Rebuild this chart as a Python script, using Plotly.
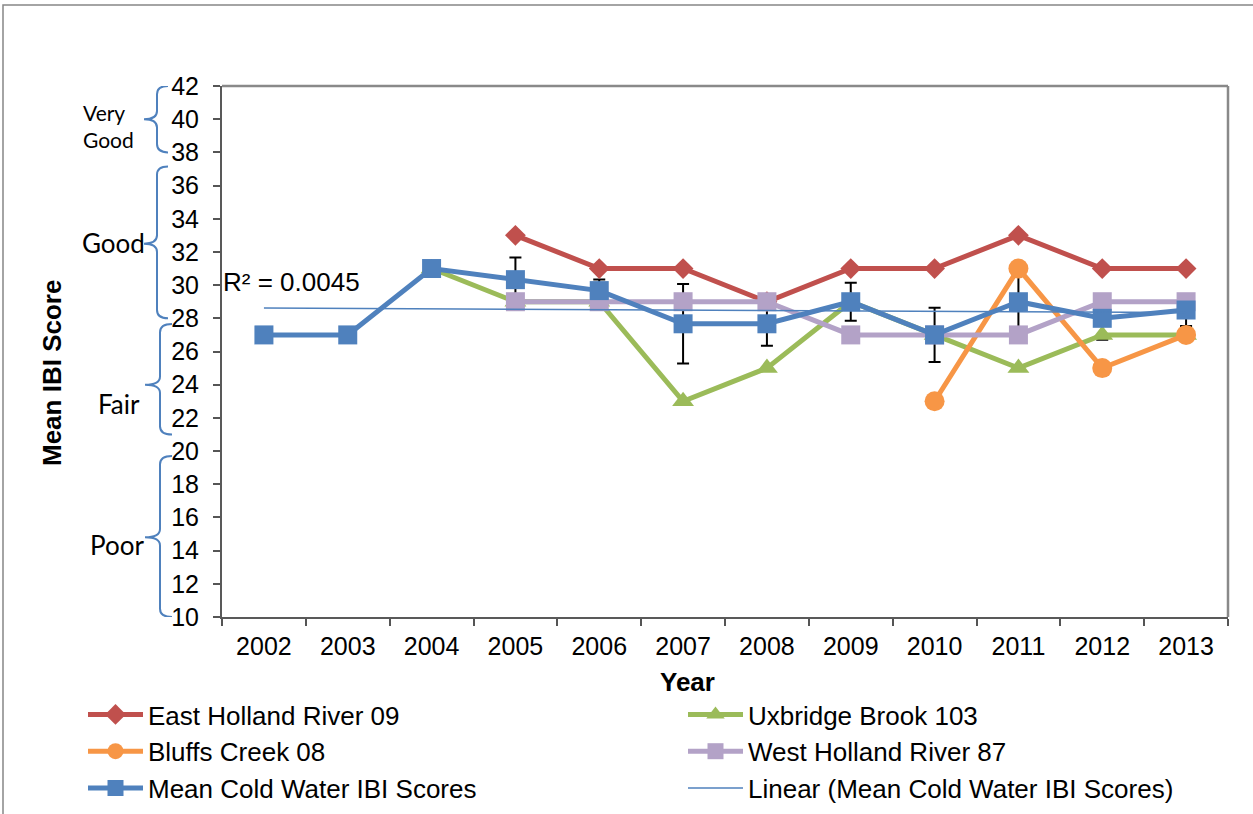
import numpy as np
import plotly.graph_objects as go

# ---- data -------------------------------------------------------------
years = ["2002", "2003", "2004", "2005", "2006", "2007",
         "2008", "2009", "2010", "2011", "2012", "2013"]

east_holland = [None, None, None, 33, 31, 31, 29, 31, 31, 33, 31, 31]
uxbridge = [None, None, 31, 29, 29, 23, 25, 29, 27, 25, 27, 27]
bluffs = [None, None, None, None, None, None, None, None, 23, 31, 25, 27]
west_holland = [None, None, None, 29, 29, 29, 29, 27, 27, 27, 29, 29]
mean_scores = [27, 27, 31, 30.33, 29.67, 27.67, 27.67, 29, 27, 29, 28, 28.5]
mean_se = [None, None, None, 1.33, 0.67, 2.40, 1.33, 1.15, 1.63, 1.83, 1.29, 0.96]

y_ticks = list(range(10, 43, 2))

# IBI rating bands (label, top, bottom, bracket tip)
band_labels = ["Very<br>Good", "Good", "Fair", "Poor"]
band_tops = [42, 37.15, 27.65, 19.7]
band_bottoms = [38, 28, 21.0, 10]
band_mids = [40, 32.5, 24.0, 14.8]

# ---- page geometry ------------------------------------------------------
W, H = 1253, 814
ML, MR, MT, MB = 222, 25, 86, 197
PW, PH = W - ML - MR, H - MT - MB


def px(x):
    """pixel column -> paper x"""
    return (x - ML) / PW


def py(y):
    """pixel row -> paper y"""
    return (H - MB - y) / PH


# ---- linear trend on the mean series -----------------------------------
xi = np.arange(1, len(years) + 1)
coef = np.polyfit(xi, mean_scores, 1)
trend = np.polyval(coef, xi)
resid = np.array(mean_scores) - trend
r2 = 1 - np.sum(resid ** 2) / np.sum((np.array(mean_scores) - np.mean(mean_scores)) ** 2)

FONT = "Liberation Sans, Arial, sans-serif"
BAND_FONT = "Lato, Carlito, Calibri, sans-serif"
BLUE = "#4F81BD"

fig = go.Figure()

# standard-error bars sit underneath every series
fig.add_trace(go.Scatter(
    x=years, y=mean_scores, mode="markers",
    marker=dict(size=2, opacity=0),
    error_y=dict(type="data", array=mean_se, visible=True,
                 color="black", thickness=2, width=6),
    showlegend=False, hoverinfo="skip"))

series = [
    ("East Holland River 09", east_holland, "#C0504D", "diamond", 16, "legend"),
    ("Uxbridge Brook 103", uxbridge, "#9BBB59", "triangle-up", 19, "legend2"),
    ("Bluffs Creek 08", bluffs, "#F79646", "circle", 20, "legend"),
    ("West Holland River 87", west_holland, "#B3A2C7", "square", 19, "legend2"),
    ("Mean Cold Water IBI Scores", mean_scores, BLUE, "square", 19, "legend"),
]
for name, vals, color, sym, size, lg in series:
    fig.add_trace(go.Scatter(
        x=years, y=vals, name=name, mode="lines+markers",
        line=dict(color=color, width=5),
        marker=dict(symbol=sym, size=size, color=color),
        legend=lg))

fig.add_trace(go.Scatter(
    x=years, y=trend, name="Linear (Mean Cold Water IBI Scores)",
    mode="lines", line=dict(color=BLUE, width=1.5), legend="legend2"))

# ---- rating-band brackets ------------------------------------------------
shapes = []
r = 0.5
for top, bot, mid, label in zip(band_tops, band_bottoms, band_mids, band_labels):
    if label == "Very<br>Good" or label == "Good":
        xe, xv, xt = px(168), px(157), px(144)
    else:
        xe, xv, xt = px(172), px(160), px(145)
    path = (f"M{xe},{top} Q{xv},{top} {xv},{top - r} "
            f"L{xv},{mid + r} Q{xv},{mid} {xt},{mid} "
            f"Q{xv},{mid} {xv},{mid - r} "
            f"L{xv},{bot + r} Q{xv},{bot} {xe},{bot}")
    shapes.append(dict(type="path", path=path, xref="paper", yref="y",
                       line=dict(color=BLUE, width=2)))

# plot-area frame (top / right) and outer chart border
shapes.append(dict(type="line", xref="paper", yref="paper", x0=0, x1=1, y0=1, y1=1,
                   line=dict(color="#898989", width=2.5)))
shapes.append(dict(type="line", xref="paper", yref="paper", x0=1, x1=1, y0=0, y1=1,
                   line=dict(color="#898989", width=2.5)))
shapes.append(dict(type="rect", xref="paper", yref="paper",
                   x0=px(3), x1=px(W + 20), y0=py(5), y1=py(H + 20),
                   line=dict(color="#878787", width=1.5)))

annotations = [
    dict(text=f"R² = {r2:.4f}", xref="paper", yref="y", x=px(221), y=30.2,
         xanchor="left", yanchor="middle", showarrow=False,
         font=dict(family=FONT, size=26, color="black")),
    dict(text="<b>Mean IBI Score</b>", xref="paper", yref="paper",
         x=px(52), y=py(373), textangle=-90, showarrow=False,
         xanchor="center", yanchor="middle",
         font=dict(family=FONT, size=26, color="black")),
    dict(text="<b>Year</b>", xref="paper", yref="paper",
         x=px(687), y=py(682), showarrow=False,
         xanchor="center", yanchor="middle",
         font=dict(family=FONT, size=26, color="black")),
    dict(text="Very<br>Good", xref="paper", yref="paper", x=px(81), y=py(126),
         xanchor="left", yanchor="middle", align="left", showarrow=False,
         font=dict(family=BAND_FONT, size=21, color="black")),
    dict(text="Good", xref="paper", yref="paper", x=px(147), y=py(243),
         xanchor="right", yanchor="middle", showarrow=False,
         font=dict(family=BAND_FONT, size=26, color="black")),
    dict(text="Fair", xref="paper", yref="paper", x=px(142), y=py(404),
         xanchor="right", yanchor="middle", showarrow=False,
         font=dict(family=BAND_FONT, size=26, color="black")),
    dict(text="Poor", xref="paper", yref="paper", x=px(146), y=py(545),
         xanchor="right", yanchor="middle", showarrow=False,
         font=dict(family=BAND_FONT, size=26, color="black")),
]

legend_common = dict(yanchor="top", xanchor="left", bgcolor="rgba(0,0,0,0)",
                     font=dict(family=FONT, size=26, color="black"),
                     itemwidth=55, tracegroupgap=0, borderwidth=0)

fig.update_layout(
    width=W, height=H,
    margin=dict(l=ML, r=MR, t=MT, b=MB, autoexpand=False),
    paper_bgcolor="white", plot_bgcolor="white",
    font=dict(family=FONT, size=25, color="black"),
    shapes=shapes, annotations=annotations,
    legend=dict(x=px(83), y=py(691), **legend_common),
    legend2=dict(x=px(683), y=py(691), **legend_common),
    xaxis=dict(type="category", categoryorder="array", categoryarray=years,
               tickson="boundaries", ticks="outside", ticklen=7, tickwidth=1.5,
               tickcolor="#555555", showline=True, linecolor="#595959", linewidth=2,
               showgrid=False, zeroline=False, tickfont=dict(size=25),
               ticklabelstandoff=6, range=[-0.5, len(years) - 0.5]),
    yaxis=dict(range=[10, 42], tickvals=y_ticks, ticks="outside", ticklen=7,
               tickwidth=1.5, tickcolor="#555555", showline=True,
               linecolor="#595959", linewidth=2, showgrid=False, zeroline=False,
               tickfont=dict(size=25), ticklabelstandoff=9),
)

fig.write_html("out.html")
